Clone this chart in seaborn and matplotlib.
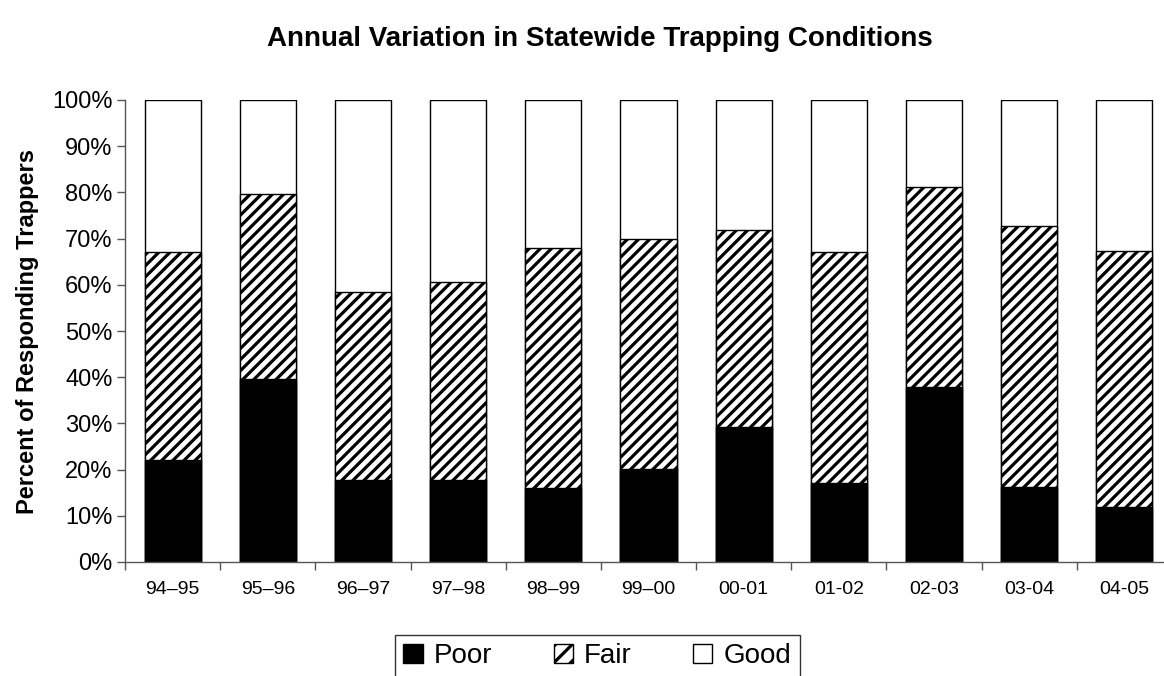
import matplotlib
matplotlib.use("Agg")
import matplotlib.pyplot as plt
from matplotlib.patches import Patch
from matplotlib.ticker import FixedLocator
import seaborn as sns
import pandas as pd
import numpy as np

seasons = ["94\u201395", "95\u201396", "96\u201397", "97\u201398", "98\u201399", "99\u201300",
           "00-01", "01-02", "02-03", "03-04", "04-05"]
poor = [22.0, 39.7, 17.7, 17.7, 16.0, 20.1, 29.2, 17.1, 37.8, 16.2, 11.9]
fair = [45.0, 40.0, 40.8, 42.8, 52.0, 49.9, 42.7, 49.9, 43.4, 56.6, 55.5]
good = [33.0, 20.3, 41.5, 39.5, 32.0, 30.0, 28.1, 33.0, 18.8, 27.2, 32.6]

sns.set_theme(style="white")
plt.rcParams['font.family'] = ['Liberation Sans', 'DejaVu Sans']
plt.rcParams['hatch.linewidth'] = 2.3
plt.rcParams['text.color'] = 'black'
plt.rcParams['axes.labelcolor'] = 'black'
plt.rcParams['xtick.color'] = 'black'
plt.rcParams['ytick.color'] = 'black'

df = pd.DataFrame({"season": seasons, "poor": poor, "fair": fair, "good": good})
df["poor_top"] = df["poor"]
df["fair_top"] = df["poor"] + df["fair"]
df["good_top"] = df["poor"] + df["fair"] + df["good"]

fig = plt.figure(figsize=(11.64, 6.76), dpi=100)
ax = fig.add_axes([125 / 1164, 114 / 676, 1047 / 1164, 462 / 676])

w = 0.59
sns.barplot(data=df, x="season", y="good_top", color="white", edgecolor="black",
            linewidth=1.0, width=w, ax=ax, saturation=1)
n0 = len(ax.patches)
sns.barplot(data=df, x="season", y="fair_top", color="white", edgecolor="black",
            linewidth=1.0, width=w, ax=ax, saturation=1)
for p in ax.patches[n0:]:
    p.set_hatch("///")
sns.barplot(data=df, x="season", y="poor_top", color="black", edgecolor="black",
            linewidth=1.0, width=w, ax=ax, saturation=1)

ax.set_ylim(0, 100)
ax.set_xlim(-0.5, len(seasons) - 0.5)
ax.set_yticks(np.arange(0, 101, 10))
ax.set_yticklabels([f"{v}%" for v in range(0, 101, 10)], fontsize=17)
ax.tick_params(axis="y", which="major", direction="out", length=6, width=1,
               color="#555555", left=True, pad=3)
ax.tick_params(axis="x", which="major", length=0, labelsize=14, pad=14)
ax.xaxis.set_minor_locator(FixedLocator(np.arange(-0.5, len(seasons), 1.0)))
ax.tick_params(axis="x", which="minor", direction="out", length=6, width=1,
               color="#555555", bottom=True)
ax.set_xlabel("")
ax.set_ylabel("Percent of Responding Trappers", fontsize=17, fontweight="bold", labelpad=9)
for s in ["top", "right"]:
    ax.spines[s].set_visible(False)
for s in ["left", "bottom"]:
    ax.spines[s].set_color("#555555")
    ax.spines[s].set_linewidth(1.0)

fig.suptitle("Annual Variation in Statewide Trapping Conditions", fontsize=20,
             fontweight="bold", x=0.515, y=0.962)

handles = [Patch(facecolor="black", edgecolor="black", label="Poor"),
           Patch(facecolor="white", edgecolor="black", hatch="//", label="Fair"),
           Patch(facecolor="white", edgecolor="black", label="Good")]
leg = fig.legend(handles=handles, loc="upper left", bbox_to_anchor=(395 / 1164, 41 / 676),
                 ncol=3, fontsize=20, frameon=True, fancybox=False, edgecolor="black",
                 handlelength=0.7, handleheight=0.7, handletextpad=0.4, columnspacing=2.2,
                 borderpad=0.3, borderaxespad=0)
leg.get_frame().set_linewidth(1.0)

fig.savefig("out.png", dpi=100, facecolor="white")
